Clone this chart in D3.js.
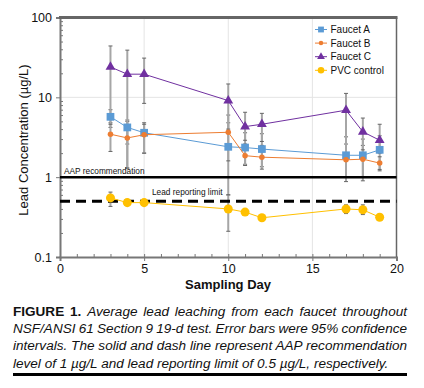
<!DOCTYPE html>
<html>
<head>
<meta charset="utf-8">
<script src="https://cdn.jsdelivr.net/npm/d3@7"></script>
<style>
  body { margin: 0; background: #fff; }
</style>
</head>
<body>
<div id="wrap"></div>
<script>
// sampling days and series values (µg/L)
const days = [3, 4, 5, 10, 11, 12, 17, 18, 19];
const faucetA = [5.7, 4.2, 3.6, 2.4, 2.35, 2.25, 1.88, 1.88, 2.2];
const faucetALo = [4.2, 2.6, 2.0, 0.6, 1.45, 1.35, 0.88, 0.9, 1.2];
const faucetAHi = [7.0, 5.2, 4.8, 4.8, 3.6, 3.5, 3.2, 3.0, 3.3];
const faucetB = [3.45, 3.1, 3.4, 3.65, 1.86, 1.78, 1.65, 1.68, 1.5];
const faucetBLo = [2.1, 1.3, 2.0, 1.6, 1.4, 1.26, 1.0, 1.0, 1.25];
const faucetBHi = [4.8, 5.0, 4.6, 6.0, 2.6, 2.5, 2.6, 2.5, 1.8];
const faucetC = [24, 19.5, 19.5, 9.1, 4.3, 4.6, 6.9, 3.7, 2.9];
const faucetCLo = [4.6, 1.3, 8.4, 4.0, 2.9, 2.8, 1.6, 2.2, 2.0];
const faucetCHi = [44, 39, 31, 14.7, 6.5, 6.3, 11.2, 5.5, 4.6];
const pvc = [0.55, 0.48, 0.48, 0.40, 0.365, 0.31, 0.40, 0.39, 0.315];
const pvcLo = [0.43, 0.46, 0.46, 0.21, 0.35, 0.3, 0.35, 0.34, 0.3];
const pvcHi = [0.65, 0.5, 0.5, 0.6, 0.38, 0.32, 0.45, 0.45, 0.33];

const seriesNames = ['Faucet A', 'Faucet B', 'Faucet C', 'PVC control'];
const xTicks = [0, 5, 10, 15, 20];
const yTicks = [0.1, 1, 10, 100];
const aapLevel = 1;
const reportLimit = 0.5;

const captionLines = [
    'Average lead leaching from each faucet throughout',
    'NSF/ANSI 61 Section 9 19-d test. Error bars were 95% confidence',
    'intervals. The solid and dash line represent AAP recommendation',
    'level of 1 µg/L and lead reporting limit of 0.5 µg/L, respectively.'
];

const series = [
    { name: seriesNames[0], values: faucetA, lo: faucetALo, hi: faucetAHi, color: '#5b9bd5', shape: 'square' },
    { name: seriesNames[1], values: faucetB, lo: faucetBLo, hi: faucetBHi, color: '#ed7d31', shape: 'diamond' },
    { name: seriesNames[2], values: faucetC, lo: faucetCLo, hi: faucetCHi, color: '#7030a0', shape: 'triangle' },
    { name: seriesNames[3], values: pvc, lo: pvcLo, hi: pvcHi, color: '#ffc000', shape: 'circle' }
];

const FONT = '"Liberation Sans", Arial, sans-serif';

const svg = d3.select('#wrap').append('svg')
    .attr('width', 424)
    .attr('height', 388)
    .style('display', 'block')
    .style('font-family', FONT);

const x = d3.scaleLinear().domain([0, 20]).range([60, 396.5]);
const y = d3.scaleLog().domain([0.1, 100]).range([257, 17.5]);

// grid lines
svg.append('g').selectAll('line').data([5, 10, 15]).enter().append('line')
    .attr('x1', d => x(d)).attr('x2', d => x(d))
    .attr('y1', y(100)).attr('y2', y(0.1))
    .attr('stroke', '#e4e4e4').attr('stroke-width', 1);
svg.append('g').selectAll('line').data([1, 10]).enter().append('line')
    .attr('x1', x(0)).attr('x2', x(20))
    .attr('y1', d => y(d)).attr('y2', d => y(d))
    .attr('stroke', '#e4e4e4').attr('stroke-width', 1);

// minor ticks (inside)
const yMinor = [];
[0.1, 1, 10].forEach(b => { for (let k = 2; k <= 9; k++) yMinor.push(b * k); });
svg.append('g')
    .attr('transform', 'translate(' + x(0) + ',0)')
    .call(d3.axisRight(y).tickValues(yMinor).tickSize(3).tickFormat(''))
    .call(g => g.select('.domain').remove())
    .selectAll('line').attr('stroke', '#777');
svg.append('g')
    .attr('transform', 'translate(0,' + y(0.1) + ')')
    .call(d3.axisTop(x).tickValues(d3.range(1, 20)).tickSize(3).tickFormat(''))
    .call(g => g.select('.domain').remove())
    .selectAll('line').attr('stroke', '#777');

// main axes
const yAxis = svg.append('g')
    .attr('transform', 'translate(' + x(0) + ',0)')
    .call(d3.axisLeft(y).tickValues(yTicks).tickSize(4).tickPadding(4).tickFormat(d => String(d)));
const xAxis = svg.append('g')
    .attr('transform', 'translate(0,' + y(0.1) + ')')
    .call(d3.axisBottom(x).tickValues(xTicks).tickSize(4).tickPadding(3));
[yAxis, xAxis].forEach(g => {
    g.select('.domain').attr('stroke', '#777').attr('stroke-width', 2);
    g.selectAll('.tick line').attr('stroke', '#777');
    g.selectAll('.tick text').attr('fill', '#111')
        .style('font-family', FONT)
        .style('font-size', '12.5px');
});

// top and right frame
svg.append('line').attr('x1', x(0) - 1).attr('x2', x(20) + 1).attr('y1', y(100)).attr('y2', y(100))
    .attr('stroke', '#666').attr('stroke-width', 3);
svg.append('line').attr('x1', x(20)).attr('x2', x(20)).attr('y1', y(100)).attr('y2', y(0.1))
    .attr('stroke', '#666').attr('stroke-width', 1.5);

// error bars
series.forEach(s => {
    const g = svg.append('g');
    days.forEach((d, i) => {
        g.append('line')
            .attr('x1', x(d)).attr('x2', x(d))
            .attr('y1', y(s.lo[i])).attr('y2', y(s.hi[i]))
            .attr('stroke', '#a6a6a6').attr('stroke-width', 2);
        [s.lo[i], s.hi[i]].forEach(v => {
            g.append('line')
                .attr('x1', x(d) - 2).attr('x2', x(d) + 2)
                .attr('y1', y(v)).attr('y2', y(v))
                .attr('stroke', '#666').attr('stroke-width', 1);
        });
    });
});

// reference lines
svg.append('line').attr('x1', x(0)).attr('x2', x(20)).attr('y1', y(aapLevel)).attr('y2', y(aapLevel))
    .attr('stroke', '#000').attr('stroke-width', 2.5);
svg.append('line').attr('x1', x(0)).attr('x2', x(20)).attr('y1', y(reportLimit)).attr('y2', y(reportLimit))
    .attr('stroke', '#000').attr('stroke-width', 3).attr('stroke-dasharray', '10,6');
svg.append('text').attr('x', x(0) + 4).attr('y', y(aapLevel) - 3.5)
    .style('font-size', '8.3px').attr('fill', '#111').text('AAP recommendation');
svg.append('text').attr('x', 152).attr('y', y(reportLimit) - 6)
    .style('font-size', '8.3px').attr('fill', '#111').text('Lead reporting limit');

// series lines and markers
const symbolFor = {
    square: d3.symbol().type(d3.symbolSquare).size(60),
    diamond: d3.symbol().type(d3.symbolCircle).size(24),
    triangle: d3.symbol().type(d3.symbolTriangle).size(42),
    circle: d3.symbol().type(d3.symbolCircle).size(64)
};
series.forEach(s => {
    const pts = days.map((d, i) => [d, s.values[i]]);
    svg.append('path').datum(pts)
        .attr('fill', 'none').attr('stroke', s.color).attr('stroke-width', 1)
        .attr('d', d3.line().x(p => x(p[0])).y(p => y(p[1])));
    svg.append('g').selectAll('path').data(pts).enter().append('path')
        .attr('transform', p => 'translate(' + x(p[0]) + ',' + y(p[1]) + ')')
        .attr('d', symbolFor[s.shape]())
        .attr('fill', s.color);
});

// legend
const legend = svg.append('g').attr('transform', 'translate(315,29.5)');
const legendSizes = { square: 34, diamond: 16, triangle: 26, circle: 34 };
series.forEach((s, i) => {
    const row = legend.append('g').attr('transform', 'translate(0,' + (i * 13.6) + ')');
    row.append('line').attr('x1', 0).attr('x2', 12).attr('stroke', s.color).attr('stroke-width', 1);
    row.append('path').attr('transform', 'translate(6,0)')
        .attr('d', d3.symbol().type(s.shape === 'square' ? d3.symbolSquare :
            s.shape === 'triangle' ? d3.symbolTriangle : d3.symbolCircle).size(legendSizes[s.shape])())
        .attr('fill', s.color);
    row.append('text').attr('x', 15.5).attr('y', 3.6)
        .style('font-size', '10px').attr('fill', '#111').text(s.name);
});

// axis titles
svg.append('text')
    .attr('transform', 'translate(28,140) rotate(-90)')
    .attr('text-anchor', 'middle')
    .style('font-size', '13px').attr('fill', '#111')
    .text('Lead Concentration (µg/L)');
svg.append('text')
    .attr('x', 228).attr('y', 289)
    .attr('text-anchor', 'middle')
    .style('font-size', '13px').style('font-weight', 'bold').attr('fill', '#111')
    .text('Sampling Day');

// caption: glyphs slightly wide, first three lines justified by word spacing
const capScale = 1.13;
const capWidth = 394 / capScale;
const cap = svg.append('g').attr('transform', 'translate(13,0) scale(' + capScale + ',1)');
captionLines.forEach((t, i) => {
    const txt = cap.append('text')
        .attr('x', 0).attr('y', 316 + i * 17.2)
        .style('font-size', '12px').style('font-style', 'italic').attr('fill', '#111');
    let full = t;
    if (i === 0) {
        txt.append('tspan').style('font-style', 'normal').style('font-weight', 'bold').text('FIGURE 1. ');
        txt.append('tspan').text(t);
        full = 'FIGURE 1. ' + t;
    } else {
        txt.text(t);
    }
    if (i < 3) {
        const gaps = full.trim().split(' ').length - 1;
        const extra = (capWidth - txt.node().getComputedTextLength()) / gaps;
        txt.style('word-spacing', extra + 'px');
    }
});
svg.append('rect').attr('x', 13).attr('y', 373).attr('width', 394).attr('height', 3).attr('fill', '#000');
</script>
</body>
</html>
